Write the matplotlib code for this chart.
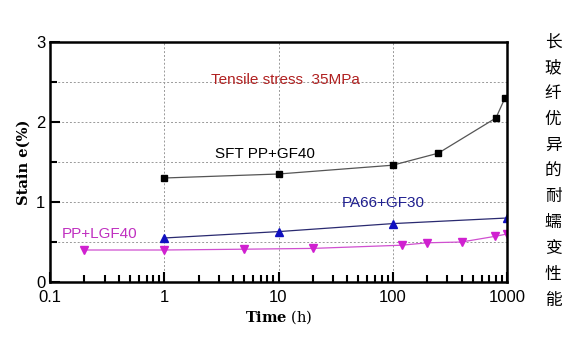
import numpy as np
import matplotlib.pyplot as plt

# data
t_sft = [1, 10, 100, 250, 800, 960]
e_sft = [1.30, 1.35, 1.46, 1.61, 2.05, 2.30]
t_pa = [1, 10, 100, 1000]
e_pa = [0.55, 0.63, 0.73, 0.80]
t_lgf = [0.2, 1, 5, 20, 120, 200, 400, 780, 1000]
e_lgf = [0.40, 0.40, 0.41, 0.42, 0.46, 0.49, 0.50, 0.57, 0.60]
side_text = "长玻纤优异的耐蠕变性能"

plt.rcParams['mathtext.fontset'] = 'dejavuserif'
plt.rcParams['font.family'] = ['Liberation Sans', 'DejaVu Sans']

fig = plt.figure(figsize=(5.84, 3.37), dpi=100)
ax = fig.add_axes([50/584, 1-282/337, 457/584, 240/337])

ax.plot(t_sft, e_sft, color='#555555', lw=0.9, marker='s', ms=5,
        mfc='black', mec='black')
ax.plot(t_pa, e_pa, color='#2a2a70', lw=0.9, marker='^', ms=6,
        mfc='#1010c0', mec='#1010c0')
ax.plot(t_lgf, e_lgf, color='#d050d0', lw=0.9, marker='v', ms=6,
        mfc='#d020d0', mec='#d020d0')

ax.set_xscale('log')
ax.set_xlim(0.1, 1000)
ax.set_ylim(0, 3)
ax.set_xticks([0.1, 1, 10, 100, 1000])
ax.set_xticklabels(['0.1', '1', '10', '100', '1000'])
minor_x = [m * 10.0**d for d in range(-1, 3) for m in range(2, 10)]
ax.set_xticks(minor_x, minor=True)
ax.set_xticklabels([], minor=True)
ax.set_yticks([0, 1, 2, 3])
ax.set_yticks([0.5, 1.5, 2.5], minor=True)
ax.tick_params(which='both', direction='in', labelsize=12, width=1.5,
               color='black', zorder=5)
ax.tick_params(which='major', length=7)
ax.tick_params(which='minor', length=5)
ax.tick_params(axis='x', pad=6)
for s in ax.spines.values():
    s.set_linewidth(1.8)

ax.grid(True, which='major', axis='x', ls=(0, (2, 2)), color='#999999', lw=0.7)
for yv in [0.5, 1, 1.5, 2, 2.5]:
    ax.axhline(yv, ls=(0, (2, 2)), color='#999999', lw=0.7, zorder=0)

ax.text(2.57, 2.52, 'Tensile stress  35MPa', color='#b02020', fontsize=11,
        va='center')
ax.text(2.8, 1.6, 'SFT PP+GF40', color='black', fontsize=11, va='center')
ax.text(36, 0.99, 'PA66+GF30', color='#202090', fontsize=11, va='center')
ax.text(0.127, 0.6, 'PP+LGF40', color='#c030c0', fontsize=11, va='center')

ax.set_ylabel('Stain e(%)', family='serif', fontweight='bold', fontsize=10.5,
              labelpad=4)
ax.set_xlabel(r'$\mathbf{Time}$ (h)', family='serif', fontsize=10.5,
              labelpad=2)

for i, ch in enumerate(side_text):
    fig.text(553/584, 1-(42+i*25.8)/337, ch, family=['Noto Sans CJK SC'],
             fontsize=12, ha='center', va='center')

fig.savefig('out.png', dpi=100)
